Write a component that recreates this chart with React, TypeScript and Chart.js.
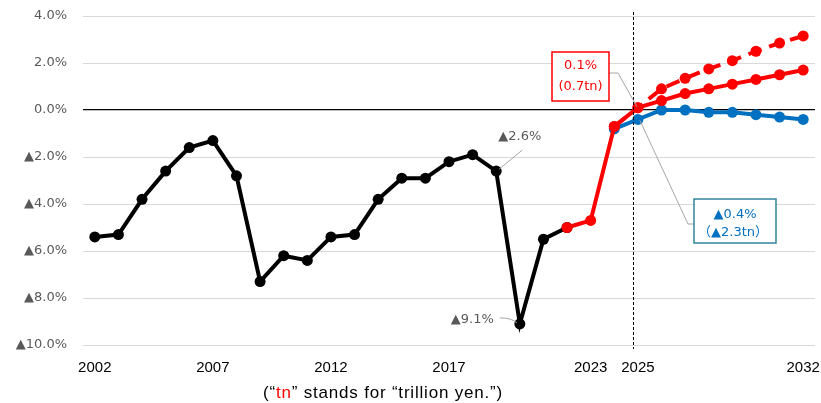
import React, { useEffect, useRef } from "react";
import { Chart, registerables } from "chart.js";

Chart.register(...registerables);

const years = [
  "2002", "2003", "2004", "2005", "2006", "2007", "2008", "2009", "2010", "2011",
  "2012", "2013", "2014", "2015", "2016", "2017", "2018", "2019", "2020", "2021",
  "2022", "2023", "2024", "2025", "2026", "2027", "2028", "2029", "2030", "2031", "2032",
];
const shownYears = ["2002", "2007", "2012", "2017", "2023", "2025", "2032"];

const actual: (number | null)[] = [
  -5.4, -5.3, -3.8, -2.6, -1.6, -1.3, -2.8, -7.3, -6.2, -6.4,
  -5.4, -5.3, -3.8, -2.9, -2.9, -2.2, -1.9, -2.6, -9.1, -5.5,
  -5.0, null, null, null, null, null, null, null, null, null, null,
];
const growthCase: (number | null)[] = [
  null, null, null, null, null, null, null, null, null, null,
  null, null, null, null, null, null, null, null, null, null,
  -5.0, -4.7, -0.7, 0.1, 0.4, 0.7, 0.9, 1.1, 1.3, 1.5, 1.7,
];
const highGrowthCase: (number | null)[] = [
  null, null, null, null, null, null, null, null, null, null,
  null, null, null, null, null, null, null, null, null, null,
  null, null, -0.7, 0.1, 0.9, 1.35, 1.75, 2.1, 2.5, 2.85, 3.15,
];
const baselineCase: (number | null)[] = [
  null, null, null, null, null, null, null, null, null, null,
  null, null, null, null, null, null, null, null, null, null,
  null, null, -0.8, -0.4, 0.0, 0.0, -0.1, -0.1, -0.2, -0.3, -0.4,
];

const yTicks = { min: -10, max: 4, step: 2 };

const fmtPct = (v: number) =>
  v < 0 ? "\u25B2" + Math.abs(v).toFixed(1) + "%" : v.toFixed(1) + "%";

const GRAY = "#595959";
const RED = "#FF0000";
const BLUE = "#0070C0";

const annotPlugin = {
  id: "annot",
  afterDatasetsDraw(chart: any) {
    const { ctx, scales, chartArea } = chart;
    const x = scales.x;
    const y = scales.y;
    const px = (i: number) => x.getPixelForValue(i);
    const py = (v: number) => y.getPixelForValue(v);
    ctx.save();

    // vertical dashed line near 2025
    const i25 = years.indexOf("2025");
    const xv = Math.round(px(i25) - 4.5) + 0.5;
    ctx.strokeStyle = "#000";
    ctx.lineWidth = 1;
    ctx.setLineDash([3, 2]);
    ctx.beginPath();
    ctx.moveTo(xv, chartArea.top - 4);
    ctx.lineTo(xv, chartArea.bottom + 4);
    ctx.stroke();
    ctx.setLineDash([]);

    // ▲2.6% label (2019)
    const i19 = years.indexOf("2019");
    const p19x = px(i19), p19y = py(actual[i19] as number);
    ctx.strokeStyle = "#a6a6a6";
    ctx.lineWidth = 1;
    ctx.beginPath();
    ctx.moveTo(p19x + 26, p19y - 21);
    ctx.lineTo(p19x + 3, p19y - 2);
    ctx.stroke();
    ctx.font = "13px 'DejaVu Sans'";
    ctx.fillStyle = GRAY;
    ctx.textBaseline = "middle";
    ctx.textAlign = "left";
    ctx.fillText(fmtPct(actual[i19] as number), p19x + 2, p19y - 34);

    // ▲9.1% label (2020)
    const i20 = years.indexOf("2020");
    const p20x = px(i20), p20y = py(actual[i20] as number);
    ctx.beginPath();
    ctx.moveTo(p20x - 20, p20y - 6);
    ctx.quadraticCurveTo(p20x - 8, p20y - 6, p20x - 3, p20y - 1);
    ctx.stroke();
    ctx.textAlign = "right";
    ctx.fillText(fmtPct(actual[i20] as number), p20x - 26, p20y - 4);

    // red box
    const rX = px(i25), rY = py(growthCase[i25] as number);
    const rb = { l: 552, t: 52, r: 609, b: 101 };
    ctx.strokeStyle = "#a6a6a6";
    ctx.beginPath();
    ctx.moveTo(rb.r, 73);
    ctx.lineTo(618, 73);
    ctx.lineTo(rX - 1, rY - 1);
    ctx.stroke();
    ctx.fillStyle = "#fff";
    ctx.fillRect(rb.l, rb.t, rb.r - rb.l, rb.b - rb.t);
    ctx.strokeStyle = RED;
    ctx.lineWidth = 1.5;
    ctx.strokeRect(rb.l, rb.t, rb.r - rb.l, rb.b - rb.t);
    ctx.fillStyle = RED;
    ctx.textAlign = "center";
    ctx.font = "13px 'DejaVu Sans'";
    ctx.fillText(fmtPct(growthCase[i25] as number), (rb.l + rb.r) / 2, 66);
    ctx.fillText("(0.7tn)", (rb.l + rb.r) / 2, 87);

    // blue box
    const bX = px(i25), bY = py(baselineCase[i25] as number);
    const bb = { l: 694, t: 199, r: 776, b: 243 };
    ctx.strokeStyle = "#a6a6a6";
    ctx.lineWidth = 1;
    ctx.beginPath();
    ctx.moveTo(bb.l, 224);
    ctx.lineTo(688, 224);
    ctx.lineTo(bX + 2, bY + 1);
    ctx.stroke();
    ctx.fillStyle = "#fff";
    ctx.fillRect(bb.l, bb.t, bb.r - bb.l, bb.b - bb.t);
    ctx.strokeStyle = "#31859C";
    ctx.lineWidth = 1.5;
    ctx.strokeRect(bb.l, bb.t, bb.r - bb.l, bb.b - bb.t);
    ctx.fillStyle = BLUE;
    ctx.font = "13px 'DejaVu Sans'";
    ctx.fillText(fmtPct(baselineCase[i25] as number), (bb.l + bb.r) / 2, 215);
    ctx.font = "13px 'DejaVu Sans', 'Noto Sans CJK JP'";
    ctx.fillText("（\u25B22.3tn）", (bb.l + bb.r) / 2 - 2, 233);

    // caption
    ctx.font = "17px 'Liberation Sans'";
    try {
      (ctx as any).letterSpacing = "0.8px";
    } catch (e) {}
    const parts: [string, string][] = [
      ["(\u201C", "#000"],
      ["tn", RED],
      ["\u201D stands for \u201Ctrillion yen.\u201D)", "#000"],
    ];
    const total = parts.reduce((s, p) => s + ctx.measureText(p[0]).width, 0);
    let cx = 383 - total / 2;
    ctx.textAlign = "left";
    for (const [t, c] of parts) {
      ctx.fillStyle = c;
      ctx.fillText(t, cx, 393);
      cx += ctx.measureText(t).width;
    }

    ctx.restore();
  },
};

export default function App() {
  const ref = useRef<HTMLCanvasElement | null>(null);
  useEffect(() => {
    document.body.style.margin = "0";
    if (!ref.current) return;
    const pointStyle = (color: string) => ({
      borderColor: color,
      backgroundColor: color,
      pointBackgroundColor: color,
      pointBorderColor: color,
      pointRadius: 5.5,
      pointBorderWidth: 0,
      borderWidth: 4,
      tension: 0,
      spanGaps: false,
    });
    const chart = new Chart(ref.current, {
      type: "line",
      data: {
        labels: years,
        datasets: [
          { label: "growth", data: growthCase, ...pointStyle(RED) },
          { label: "high", data: highGrowthCase, ...pointStyle(RED), borderDash: [14, 8] },
          { label: "baseline", data: baselineCase, ...pointStyle(BLUE) },
          { label: "actual", data: actual, ...pointStyle("#000") },
        ],
      },
      options: {
        animation: false,
        responsive: false,
        layout: { padding: { top: 16, right: 6, left: 0, bottom: 0 } },
        plugins: {
          legend: { display: false },
          tooltip: { enabled: false },
        },
        scales: {
          x: {
            type: "category",
            offset: true,
            grid: { display: false, drawTicks: false },
            border: { display: false },
            ticks: {
              autoSkip: false,
              maxRotation: 0,
              minRotation: 0,
              padding: 14,
              color: "#000",
              font: { family: "'Liberation Sans'", size: 15 },
              callback: (_v: any, i: number) => (shownYears.includes(years[i]) ? years[i] : ""),
            },
            afterFit: (s: any) => {
              s.height = 58;
              s.paddingLeft = 0;
              s.paddingRight = 0;
            },
          },
          y: {
            min: yTicks.min,
            max: yTicks.max,
            ticks: {
              stepSize: yTicks.step,
              padding: 16,
              color: GRAY,
              font: { family: "'DejaVu Sans'", size: 13 },
              callback: (v: any) => fmtPct(Number(v)),
            },
            grid: {
              drawTicks: false,
              color: (c: any) => (c.tick && c.tick.value === 0 ? "#000" : "#d9d9d9"),
              lineWidth: (c: any) => (c.tick && c.tick.value === 0 ? 1.2 : 1),
            },
            border: { display: false },
            afterFit: (s: any) => {
              s.width = 83;
              s.paddingTop = 0;
              s.paddingBottom = 0;
            },
          },
        },
      },
      plugins: [annotPlugin],
    });
    return () => chart.destroy();
  }, []);
  return (
    <div style={{ width: 821, height: 403 }}>
      <canvas ref={ref} width={821} height={403} />
    </div>
  );
}
